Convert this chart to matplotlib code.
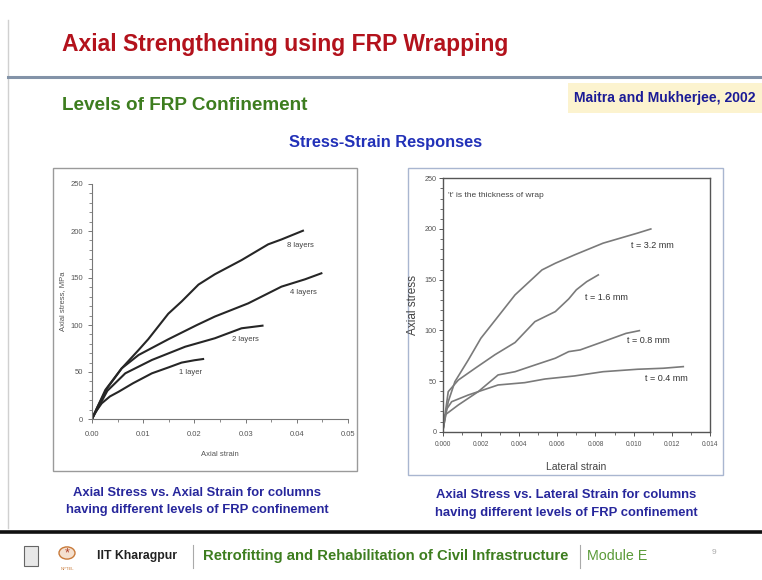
import numpy as np
import matplotlib
matplotlib.use('Agg')
import matplotlib.pyplot as plt
from matplotlib.patches import Rectangle, Circle
from matplotlib.ticker import MultipleLocator, FormatStrFormatter

# Left chart: axial stress (MPa) vs axial strain, by number of FRP layers
layer_labels = ['1 layer', '2 layers', '4 layers', '8 layers']
one_x = [0, 0.0005, 0.0019, 0.0035, 0.0052, 0.008, 0.0117, 0.015, 0.0175, 0.02, 0.0217]
one_y = [0, 6, 16.7, 24, 29, 38, 48.6, 55, 60, 62.5, 63.8]
two_x = [0, 0.001, 0.003, 0.0065, 0.0117, 0.0182, 0.024, 0.0292, 0.0333]
two_y = [0, 10, 30, 48.6, 62.8, 76.9, 85.9, 96.5, 99.3]
four_x = [0, 0.001, 0.003, 0.0058, 0.0091, 0.0149, 0.0205, 0.024, 0.0305, 0.037, 0.0416, 0.0448]
four_y = [0, 12, 33, 53.9, 68.1, 84.8, 100, 109, 123, 140.8, 148.6, 155]
eight_x = [0, 0.001, 0.0026, 0.0058, 0.0091, 0.011, 0.0149, 0.0175, 0.0208, 0.024, 0.0292, 0.0344, 0.037, 0.0412]
eight_y = [0, 12, 30.9, 53.9, 73.4, 85, 112, 125, 143, 154, 169, 185.8, 191, 200.3]
layer_lab_x = [0.0193, 0.0299, 0.0412, 0.0408]
layer_lab_y = [49, 85, 135, 185]

# Right chart: axial stress vs lateral strain, by wrap thickness
t_labels = ['t = 0.4 mm', 't = 0.8 mm', 't = 1.6 mm', 't = 3.2 mm']
t04_x = [0, 0.0002, 0.00047, 0.00134, 0.0029, 0.0043, 0.00536, 0.0069, 0.0084, 0.0102, 0.01155, 0.0126]
t04_y = [0, 22, 29.6, 36.2, 46.1, 48.4, 52, 55, 59.2, 61.6, 62.6, 64.2]
t08_x = [0, 0.00012, 0.00082, 0.00186, 0.0029, 0.00379, 0.00483, 0.0059, 0.0066, 0.0072, 0.0084, 0.0096, 0.0103]
t08_y = [0, 16.5, 26.4, 39.5, 56, 59.2, 65.8, 72.5, 79, 80.7, 88.8, 97, 99.7]
t16_x = [0, 0.00029, 0.00082, 0.0017, 0.00274, 0.00379, 0.00483, 0.0059, 0.0066, 0.007, 0.00754, 0.00815]
t16_y = [0, 39.5, 51, 62.6, 76, 88, 108.6, 118.5, 131, 140, 148, 154.7]
t32_x = [0, 0.00029, 0.00064, 0.00134, 0.002, 0.00283, 0.00379, 0.0052, 0.0059, 0.0069, 0.0084, 0.0102, 0.0109]
t32_y = [0, 29.6, 49.4, 70.8, 92.2, 112, 135, 159.6, 166.2, 174.4, 186, 195.9, 200]
t_lab_x = [0.0117, 0.01076, 0.0086, 0.011]
t_lab_y = [52, 89.5, 132, 184]

W, H = 762, 580
plt.rcParams['font.family'] = ['Liberation Sans', 'DejaVu Sans']

fig = plt.figure(figsize=(W / 100, H / 100), dpi=100)
fig.patch.set_facecolor('white')


def P(x, y):
    return x / W, 1 - y / H


def box(x0, y0, x1, y1):
    return [x0 / W, 1 - y1 / H, (x1 - x0) / W, (y1 - y0) / H]


def txt(x, y, s, **kw):
    fig.text(*P(x, y), s, transform=fig.transFigure, **kw)


def vline(x, y0, y1, **kw):
    fig.add_artist(plt.Line2D([x / W, x / W], [1 - y0 / H, 1 - y1 / H], **kw))


def hline(x0, x1, y, **kw):
    fig.add_artist(plt.Line2D([x0 / W, x1 / W], [1 - y / H, 1 - y / H], **kw))


# slide frame
vline(8, 20, 528, color='#d0d0d0', lw=1)
hline(8, W, 76.5, color='#8393a8', lw=2.2)
hline(0, W, 531.5, color='#111111', lw=2.6)

txt(62, 44, 'Axial Strengthening using FRP Wrapping', color='#b3121c', fontsize=16.5,
    fontweight='bold', va='center', ha='left')
txt(62, 105, 'Levels of FRP Confinement', color='#3d7d1f', fontsize=13.6,
    fontweight='bold', va='center', ha='left')
fig.add_artist(Rectangle(P(568, 113), 194 / W, 30 / H, transform=fig.transFigure,
                         facecolor='#fcf3cf', edgecolor='none', zorder=-1))
txt(574, 98, 'Maitra and Mukherjee, 2002', color='#1b1b96', fontsize=10.1,
    fontweight='bold', va='center', ha='left')
txt(386, 143, 'Stress-Strain Responses', color='#2231b8', fontsize=11.8,
    fontweight='bold', va='center', ha='center')

# figure frames
fig.add_artist(Rectangle(P(53, 471), 304 / W, 303 / H, transform=fig.transFigure,
                         facecolor='white', edgecolor='#9a9a9a', lw=1, zorder=-1))
fig.add_artist(Rectangle(P(408, 475), 315 / W, 307 / H, transform=fig.transFigure,
                         facecolor='white', edgecolor='#a9b6d0', lw=1, zorder=-1))

# left chart
ax1 = fig.add_axes(box(92, 184, 348, 419))
ax1.set_facecolor('none')
for xs, ys in [(one_x, one_y), (two_x, two_y), (four_x, four_y), (eight_x, eight_y)]:
    ax1.plot(xs, ys, color='#262626', lw=1.5)
for lab, lx, ly in zip(layer_labels, layer_lab_x, layer_lab_y):
    ax1.text(lx, ly, lab, fontsize=5.5, color='#444444', ha='center', va='center')
ax1.set_xlim(0, 0.05)
ax1.set_ylim(0, 250)
ax1.xaxis.set_major_locator(MultipleLocator(0.01))
ax1.xaxis.set_minor_locator(MultipleLocator(0.005))
ax1.xaxis.set_major_formatter(FormatStrFormatter('%.2f'))
ax1.yaxis.set_major_locator(MultipleLocator(50))
ax1.yaxis.set_minor_locator(MultipleLocator(10))
for s in ['top', 'right']:
    ax1.spines[s].set_visible(False)
for s in ['left', 'bottom']:
    ax1.spines[s].set_color('#777777')
    ax1.spines[s].set_linewidth(0.8)
ax1.tick_params(which='both', direction='out', colors='#777777', labelcolor='#555555', labelsize=5.5)
ax1.tick_params(which='major', length=3, width=0.7)
ax1.tick_params(which='minor', length=2, width=0.6)
ax1.tick_params(axis='x', pad=6)
ax1.set_xlabel('Axial strain', fontsize=5.5, color='#555555', labelpad=9)
ax1.set_ylabel('Axial stress, MPa', fontsize=5.5, color='#555555', labelpad=3)

# right chart
ax2 = fig.add_axes(box(442.7, 178.3, 710, 431.7))
ax2.set_facecolor('none')
for xs, ys in [(t04_x, t04_y), (t08_x, t08_y), (t16_x, t16_y), (t32_x, t32_y)]:
    ax2.plot(xs, ys, color='#7a7a7a', lw=1.2)
for lab, lx, ly in zip(t_labels, t_lab_x, t_lab_y):
    ax2.text(lx, ly, lab, fontsize=6.5, color='#333333', ha='center', va='center')
ax2.text(0.00026, 233, "'t' is the thickness of wrap", fontsize=6, color='#444444',
         ha='left', va='center')
ax2.set_xlim(0, 0.014)
ax2.set_ylim(0, 250)
ax2.xaxis.set_major_locator(MultipleLocator(0.002))
ax2.xaxis.set_minor_locator(MultipleLocator(0.001))
ax2.xaxis.set_major_formatter(FormatStrFormatter('%.3f'))
ax2.yaxis.set_major_locator(MultipleLocator(50))
ax2.yaxis.set_minor_locator(MultipleLocator(10))
for s in ax2.spines.values():
    s.set_color('#555555')
    s.set_linewidth(1.0)
ax2.tick_params(which='both', direction='out', colors='#555555', labelcolor='#555555')
ax2.tick_params(axis='x', labelsize=4.8)
ax2.tick_params(axis='y', labelsize=5.2, pad=1.5)
ax2.tick_params(which='major', length=3, width=0.7)
ax2.tick_params(which='minor', length=2, width=0.6)
ax2.set_xlabel('Lateral strain', fontsize=7.5, color='#444444', labelpad=10)
ax2.set_ylabel('Axial stress', fontsize=8.5, color='#444444', labelpad=4)

# captions
cap = dict(color='#27279c', fontsize=9.4, fontweight='bold', ha='center', va='center')
txt(197, 493, 'Axial Stress vs. Axial Strain for columns', **cap)
txt(197, 510, 'having different levels of FRP confinement', **cap)
txt(566, 495, 'Axial Stress vs. Lateral Strain for columns', **cap)
txt(566, 513, 'having different levels of FRP confinement', **cap)

# footer
fig.add_artist(Rectangle(P(24, 566), 14 / W, 20 / H, transform=fig.transFigure,
                         facecolor='#e8e8e8', edgecolor='#666666', lw=0.8))
fig.add_artist(Circle(P(67, 553), 8 / W, transform=fig.transFigure,
                      facecolor='#f4e0cf', edgecolor='#c87a3a', lw=1))
txt(67, 553, '*', color='#b0402a', fontsize=9, ha='center', va='center')
txt(67, 569, 'NPTEL', color='#c87a3a', fontsize=3, ha='center', va='center')
txt(97, 556, 'IIT Kharagpur', color='#222222', fontsize=8.8, fontweight='bold',
    ha='left', va='center')
vline(193, 545, 568, color='#aaaaaa', lw=0.8)
txt(203, 556, 'Retrofitting and Rehabilitation of Civil Infrastructure', color='#3d7d1f',
    fontsize=10.7, fontweight='bold', ha='left', va='center')
vline(580, 545, 568, color='#aaaaaa', lw=0.8)
txt(587, 556, 'Module E', color='#5a9a38', fontsize=10.3, ha='left', va='center')
txt(714, 552, '9', color='#aaaaaa', fontsize=6, ha='center', va='center')

fig.savefig('out.png', dpi=100, facecolor='white')
